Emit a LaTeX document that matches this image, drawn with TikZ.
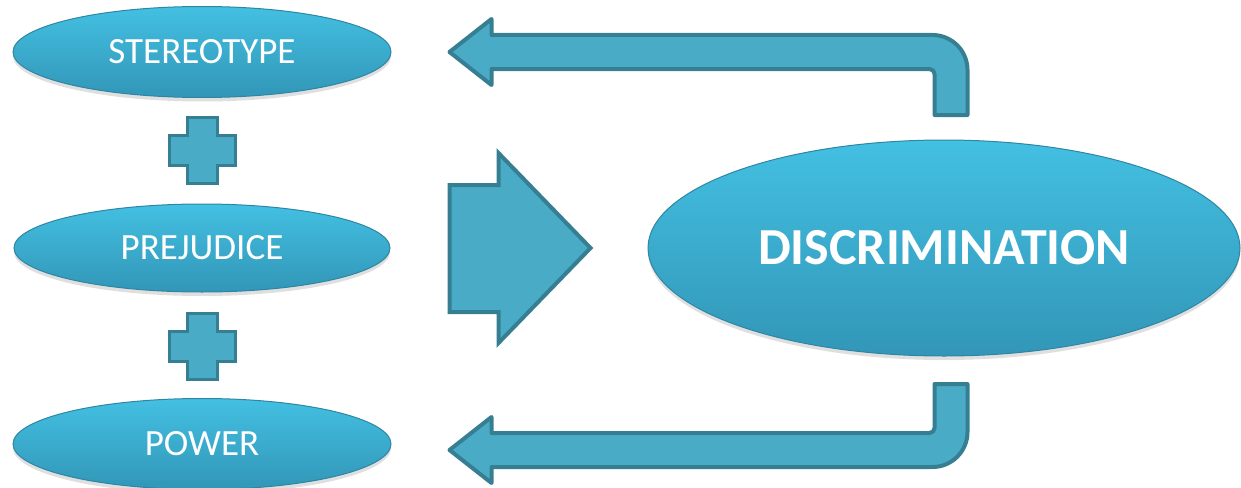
\documentclass[tikz,border=0pt]{standalone}
\usepackage{fontspec}
\setmainfont{Carlito}
\usetikzlibrary{calc}
\usetikzlibrary{shapes.geometric, shadows}

\definecolor{ovaltop}{HTML}{43C0E2}
\definecolor{ovalbot}{HTML}{3296B7}
\definecolor{ovalline}{HTML}{2E86A3}
\definecolor{arrowfill}{HTML}{4AABC6}
\definecolor{arrowline}{HTML}{367F93}

\tikzset{
  oval/.style={ellipse, draw=ovalline, line width=1pt,
    top color=ovaltop, bottom color=ovalbot, text=white,
    drop shadow={opacity=.25, shadow xshift=0pt, shadow yshift=-4pt},
    inner sep=0pt},
  blockarrow/.style={fill=arrowfill, draw=arrowline, line width=4pt, line join=round},
}

\begin{document}
\begin{tikzpicture}[x=1pt, y=-1pt]%
  \useasboundingbox (0,0) rectangle (1241,487);
  % left column
  \node[oval, minimum width=378pt, minimum height=91pt, font=\fontsize{37}{42}\selectfont]
    (stereo) at (202,52) {STEREOTYPE};
  \node[oval, minimum width=376pt, minimum height=88pt, font=\fontsize{37}{42}\selectfont]
    (prej) at (202,248) {PREJUDICE};
  \node[oval, minimum width=378pt, minimum height=91pt, font=\fontsize{37}{42}\selectfont]
    (power) at (202,444) {POWER};
  \node[oval, minimum width=592pt, minimum height=216pt, font=\fontsize{52}{58}\selectfont\bfseries]
    (discr) at (944,248) {DISCRIMINATION};
  % plus signs
  \coordinate (plusA) at ($(stereo)!.5!(prej)$);
  \coordinate (plusB) at ($(prej)!.5!(power)$);
  \foreach \p in {plusA, plusB} {
    \draw[blockarrow, line width=3pt, line join=miter]
    (\p) ++(-15,-33) -- ++(30,0) -- ++(0,18) -- ++(18,0) -- ++(0,30) -- ++(-18,0)
    -- ++(0,18) -- ++(-30,0) -- ++(0,-18) -- ++(-18,0) -- ++(0,-30) -- ++(18,0) -- cycle;
  }
  % big arrow
  \coordinate (midTail) at ($(stereo.east |- prej)+(58,0)$);
  \draw[blockarrow, line join=miter]
    (midTail) ++(0,-63) -- ++(49,0) -- ++(0,-32) -- ++(92,95) -- ++(-92,95)
    -- ++(0,-31) -- ++(-49,0) -- cycle;
  % feedback arrows
  \coordinate (topTip) at ($(stereo.east)+(58,0)$);
  \coordinate (botTip) at ($(power.east)+(58,6)$);
  \draw[blockarrow]
    (topTip) -- ++(42,-33) -- ++(0,16) -- ++(441,0)
    .. controls +(19.3,0) and +(0,-19.3) .. ++(35,35)
    -- ++(0,45) -- ++(-33,0) -- ++(0,-41)
    .. controls +(0,-2.8) and +(2.8,0) .. ++(-5,-5)
    -- ++(-438,0) -- ++(0,16) -- cycle;
  \draw[blockarrow]
    (botTip) -- ++(42,-33) -- ++(0,16) -- ++(438,0)
    .. controls +(2.8,0) and +(0,2.8) .. ++(5,-5)
    -- ++(0,-44) -- ++(33,0) -- ++(0,48)
    .. controls +(0,19.3) and +(19.3,0) .. ++(-35,35)
    -- ++(-441,0) -- ++(0,16) -- cycle;
\end{tikzpicture}
\end{document}
